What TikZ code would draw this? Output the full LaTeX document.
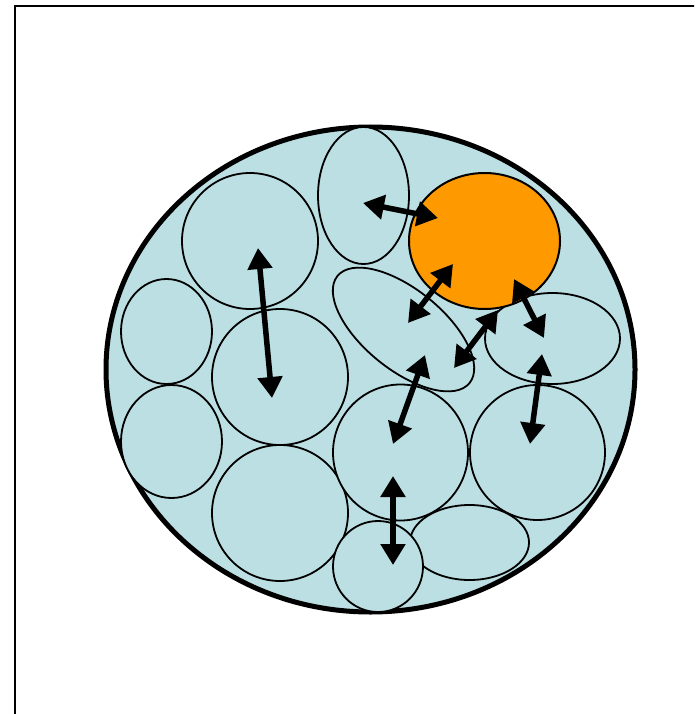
\documentclass[tikz,border=0pt]{standalone}
\usetikzlibrary{arrows.meta}
\definecolor{cellblue}{HTML}{BBDFE3}
\definecolor{hotorange}{HTML}{FF9900}
\tikzset{
  cell/.style={draw=black, line width=1.8pt, fill=cellblue},
  hotcell/.style={draw=black, line width=2pt, fill=hotorange},
  outer/.style={draw=black, line width=5pt, fill=cellblue},
  motion/.style={line width=5.5pt, {Triangle[length=21pt,width=24pt]}-{Triangle[length=21pt,width=24pt]}},
}
\begin{document}
\begin{tikzpicture}[x=1pt,y=-1pt]
\useasboundingbox (0,0) rectangle (694,714);
\begin{scope}
\clip (0,0) rectangle (694,714);
\draw[line width=2pt] (15,6) rectangle (720,740);
\end{scope}
% outer boundary
\draw[outer] (370.5,369.5) ellipse [x radius=264.5, y radius=242.5];
% cells
\draw[cell] (363.5,195.5) ellipse [x radius=45.5, y radius=68.5];
\draw[cell] (250,241) ellipse [x radius=68, y radius=68];
\draw[cell] (166.5,331.5) ellipse [x radius=45.5, y radius=52.5];
\draw[cell] (280,377) ellipse [x radius=68, y radius=68];
\draw[cell] (171.5,441.5) ellipse [x radius=50.5, y radius=56.5];
\draw[cell] (280,513) ellipse [x radius=68, y radius=68];
\draw[cell] (403.5,329.5) ellipse [x radius=85, y radius=40, rotate=-39];
\draw[cell] (552.5,338.5) ellipse [x radius=67.5, y radius=45.5];
\draw[cell] (400.5,452.5) ellipse [x radius=67.5, y radius=68];
\draw[cell] (537.5,452.5) ellipse [x radius=67.5, y radius=67.5];
\draw[cell] (469.5,542.5) ellipse [x radius=59.5, y radius=37.5];
\draw[cell] (378,566.5) ellipse [x radius=45, y radius=45.5];
\draw[hotcell] (484.5,241) ellipse [x radius=75.5, y radius=68];
% arrow end points
\coordinate (a1s) at (363,203); \coordinate (a1e) at (438,218);
\coordinate (a2s) at (258,248); \coordinate (a2e) at (272,398);
\coordinate (a3s) at (453,264); \coordinate (a3e) at (408,323);
\coordinate (a4s) at (498,310); \coordinate (a4e) at (454,368);
\coordinate (a5s) at (514,279); \coordinate (a5e) at (544,338);
\coordinate (a6s) at (425,355); \coordinate (a6e) at (393,444);
\coordinate (a7s) at (542,354); \coordinate (a7e) at (530,444);
\coordinate (a8s) at (393,476); \coordinate (a8e) at (393,565);
\foreach \i in {1,...,8} {\draw[motion] (a\i s) -- (a\i e);}
\end{tikzpicture}
\end{document}
